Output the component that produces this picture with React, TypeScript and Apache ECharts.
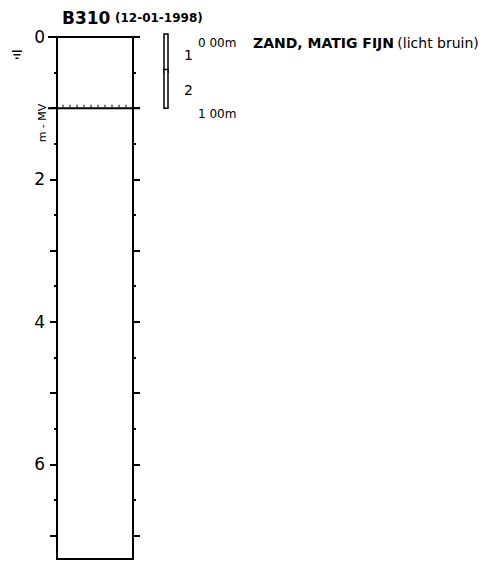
import React, { useEffect, useRef } from "react";
import * as echarts from "echarts";

const boreholeId = "B310";
const boreholeDate = "(12-01-1998)";
const depthMin = 0;
const depthMax = 7.33;
const majorTicks = [0, 1, 2, 3, 4, 5, 6, 7];
const minorTicks = [0.5, 1.5, 2.5, 3.5, 4.5, 5.5, 6.5];
const tickLabels = [0, 2, 4, 6];
const layerTops = [0];
const layerBottoms = [1];
const layerNames = ["ZAND, MATIG FIJN"];
const layerNotes = ["(licht bruin)"];
const sampleTops = [0, 0.5];
const sampleBottoms = [0.5, 1];
const sampleIds = ["1", "2"];
const waterLevels = [0.2];
const axisTitle = "m - MV";

const FONT = "DejaVu Sans";

function fmtDepth(d: number): string {
  return d.toFixed(2).replace(".", " ") + "m";
}

export default function App() {
  const ref = useRef<HTMLDivElement>(null);

  useEffect(() => {
    if (!ref.current) return;
    const chart = echarts.init(ref.current, undefined, { renderer: "svg" });

    const boundaryDepths = Array.from(new Set([...layerTops, ...layerBottoms]));
    const layerData = layerTops.map((t, i) => [t, layerBottoms[i], i]);
    const sampleData = sampleTops.map((t, i) => [t, sampleBottoms[i], i]);

    const baseY = {
      type: "value" as const,
      min: depthMin,
      max: depthMax,
      inverse: true,
      splitLine: { show: false },
    };

    const option: any = {
      animation: false,
      backgroundColor: "#fff",
      grid: { left: 57, right: 361, top: 37, bottom: 4, containLabel: false },
      xAxis: {
        type: "value",
        min: 0,
        max: 1,
        position: "bottom",
        axisLine: { show: true, onZero: false, lineStyle: { color: "#000", width: 2 } },
        axisTick: { show: false },
        axisLabel: { show: false },
        splitLine: { show: false },
      },
      yAxis: [
        {
          ...baseY,
          position: "left",
          axisLine: { show: true, lineStyle: { color: "#000", width: 2 } },
          axisTick: { show: true, customValues: majorTicks, length: 7, lineStyle: { color: "#000", width: 2 } },
          axisLabel: {
            show: true,
            customValues: tickLabels,
            margin: 12,
            color: "#000",
            fontFamily: FONT,
            fontSize: 17,
          },
        },
        {
          ...baseY,
          position: "left",
          axisLine: { show: false },
          axisTick: { show: true, customValues: minorTicks, length: 3, lineStyle: { color: "#000", width: 2 } },
          axisLabel: { show: false },
        },
        {
          ...baseY,
          position: "right",
          axisLine: { show: true, lineStyle: { color: "#000", width: 2 } },
          axisTick: { show: true, customValues: majorTicks, length: 7, lineStyle: { color: "#000", width: 2 } },
          axisLabel: { show: false },
        },
        {
          ...baseY,
          position: "right",
          axisLine: { show: false },
          axisTick: { show: true, customValues: minorTicks, length: 3, lineStyle: { color: "#000", width: 2 } },
          axisLabel: { show: false },
        },
      ],
      graphic: [
        {
          type: "text",
          left: 62,
          top: 9,
          style: { text: boreholeId, font: `bold 17px "${FONT}"`, fill: "#000" },
        },
        {
          type: "text",
          left: 115,
          top: 12,
          style: { text: boreholeDate, font: `bold 12px "${FONT}"`, fill: "#000" },
        },
        {
          type: "text",
          x: 42,
          y: 123,
          rotation: Math.PI / 2,
          style: {
            text: axisTitle,
            font: `11px "${FONT}"`,
            fill: "#000",
            align: "center",
            verticalAlign: "middle",
          },
        },
      ],
      series: [
        {
          type: "custom",
          name: "boundaries",
          xAxisIndex: 0,
          yAxisIndex: 0,
          data: boundaryDepths.map((d) => [d]),
          renderItem: (params: any, api: any) => {
            const d = api.value(0);
            const [xl, y] = api.coord([0, d]);
            const [xr] = api.coord([1, d]);
            const children: any[] = [
              {
                type: "line",
                shape: { x1: xl - 9, y1: y, x2: xr + 7, y2: y },
                style: { stroke: "#000", lineWidth: 2 },
              },
            ];
            if (d > 0) {
              for (let x = xl + 6; x < xr - 3; x += 7) {
                children.push({
                  type: "line",
                  shape: { x1: x, y1: y - 3.5, x2: x, y2: y - 1 },
                  style: { stroke: "#000", lineWidth: 1 },
                });
              }
            }
            return { type: "group", children };
          },
        },
        {
          type: "custom",
          name: "layers",
          xAxisIndex: 0,
          yAxisIndex: 0,
          data: layerData,
          renderItem: (params: any, api: any) => {
            const top = api.value(0);
            const bottom = api.value(1);
            const i = api.value(2);
            const [, yTop] = api.coord([0, top]);
            const [xr, yBottom] = api.coord([1, bottom]);
            return {
              type: "group",
              children: [
                {
                  type: "text",
                  x: xr + 65,
                  y: yTop + 6,
                  style: { text: fmtDepth(top), font: `12px "${FONT}"`, fill: "#000", verticalAlign: "middle" },
                },
                {
                  type: "text",
                  x: xr + 65,
                  y: yBottom + 6,
                  style: { text: fmtDepth(bottom), font: `12px "${FONT}"`, fill: "#000", verticalAlign: "middle" },
                },
                {
                  type: "text",
                  x: xr + 120,
                  y: yTop + 6,
                  style: {
                    text: `{b|${layerNames[i]}} {n|${layerNotes[i]}}`,
                    verticalAlign: "middle",
                    fill: "#000",
                    rich: {
                      b: { font: `bold 14px "${FONT}"`, fill: "#000" },
                      n: { font: `14px "${FONT}"`, fill: "#000" },
                    },
                  },
                },
              ],
            };
          },
        },
        {
          type: "custom",
          name: "samples",
          xAxisIndex: 0,
          yAxisIndex: 0,
          data: sampleData,
          renderItem: (params: any, api: any) => {
            const top = api.value(0);
            const bottom = api.value(1);
            const i = api.value(2);
            const [xr, yTop] = api.coord([1, top]);
            const [, yBottom] = api.coord([1, bottom]);
            return {
              type: "group",
              children: [
                {
                  type: "rect",
                  shape: { x: xr + 31, y: yTop - 3, width: 4, height: yBottom - yTop + 3 },
                  style: { fill: "#fff", stroke: "#000", lineWidth: 1.5 },
                },
                {
                  type: "text",
                  x: xr + 51,
                  y: (yTop + yBottom) / 2,
                  style: {
                    text: sampleIds[i],
                    font: `14px "${FONT}"`,
                    fill: "#000",
                    verticalAlign: "middle",
                  },
                },
              ],
            };
          },
        },
        {
          type: "custom",
          name: "water",
          xAxisIndex: 0,
          yAxisIndex: 0,
          data: waterLevels.map((d) => [d]),
          renderItem: (params: any, api: any) => {
            const d = api.value(0);
            const [xl, y] = api.coord([0, d]);
            const cx = xl - 40;
            const mk = (dy: number, w: number) => ({
              type: "line",
              shape: { x1: cx - w / 2, y1: y + dy, x2: cx + w / 2, y2: y + dy },
              style: { stroke: "#000", lineWidth: 1.5 },
            });
            return { type: "group", children: [mk(0, 10), mk(3.5, 7), mk(7, 3)] };
          },
        },
      ],
    };

    chart.setOption(option);
    return () => chart.dispose();
  }, []);

  return (
    <div
      ref={ref}
      style={{ position: "fixed", left: 0, top: 0, width: 494, height: 563, background: "#fff" }}
    />
  );
}
